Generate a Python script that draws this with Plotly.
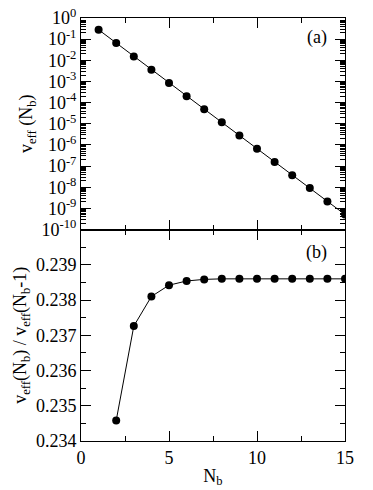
import plotly.graph_objects as go
from plotly.subplots import make_subplots

# values
nb = [1, 2, 3, 4, 5, 6, 7, 8, 9, 10, 11, 12, 13, 14, 15]
v_eff = [0.279, 0.0653, 0.0151, 3.55e-3, 8.5e-4, 2.0e-4, 4.9e-5, 1.17e-5,
         2.8e-6, 6.6e-7, 1.55e-7, 3.7e-8, 9.1e-9, 2.1e-9, 5.1e-10]

nb_ratio = [2, 3, 4, 5, 6, 7, 8, 9, 10, 11, 12, 13, 14, 15]
ratio = [0.23458, 0.23726, 0.23810, 0.23842, 0.23854, 0.238585, 0.2386,
         0.2386, 0.2386, 0.2386, 0.2386, 0.2386, 0.2386, 0.2386]

log_exps = list(range(0, -11, -1))
ratio_ticks = [0.234, 0.235, 0.236, 0.237, 0.238, 0.239]

font = "Liberation Serif, Times New Roman, serif"

fig = make_subplots(rows=2, cols=1, shared_xaxes=True, vertical_spacing=0)

fig.add_trace(go.Scatter(x=nb, y=v_eff, mode='lines+markers',
                         line=dict(color='black', width=1),
                         marker=dict(color='black', size=8)), row=1, col=1)
fig.add_trace(go.Scatter(x=nb_ratio, y=ratio, mode='lines+markers',
                         line=dict(color='black', width=1),
                         marker=dict(color='black', size=8)), row=2, col=1)

axis_common = dict(showline=True, linecolor='black', linewidth=1, mirror='ticks',
                   ticks='inside', tickcolor='black', showgrid=False, zeroline=False,
                   automargin=False, ticklabeloverflow='allow', ticklen=10,
                   tickfont=dict(family=font, size=18, color='black'))

fig.update_xaxes(range=[0, 15], tickvals=[0, 5, 10, 15],
                 minor=dict(ticks='inside', dtick=2.5, ticklen=5, tickcolor='black'),
                 **axis_common)
fig.update_xaxes(showticklabels=False, row=1, col=1)
fig.update_xaxes(title=dict(text='N<sub>b</sub>', font=dict(family=font, size=18, color='black'),
                            standoff=2), row=2, col=1)

minor_log = [m * 10.0 ** e for e in range(-10, 0) for m in range(2, 10)]
fig.update_yaxes(type='log', range=[-10, 0],
                 tickvals=[10.0 ** e for e in log_exps],
                 ticktext=['10<sup>%d</sup>' % e for e in log_exps],
                 minor=dict(ticks='inside', tickvals=minor_log, ticklen=5, tickcolor='black'),
                 title=dict(text='v<sub>eff</sub> (N<sub>b</sub>)',
                            font=dict(family=font, size=18, color='black'), standoff=4),
                 row=1, col=1, **axis_common)
fig.update_yaxes(range=[0.234, 0.240], tickvals=ratio_ticks,
                 ticktext=['%.3f' % t for t in ratio_ticks],
                 minor=dict(ticks='inside', dtick=0.0005, ticklen=5, tickcolor='black'),
                 title=dict(text='v<sub>eff</sub>(N<sub>b</sub>) / v<sub>eff</sub>(N<sub>b</sub>-1)',
                            font=dict(family=font, size=18, color='black'), standoff=4),
                 row=2, col=1, **axis_common)

fig.add_annotation(x=13.4, y=-0.93, xref='x', yref='y', text='(a)', showarrow=False,
                   font=dict(family=font, size=18, color='black'))
fig.add_annotation(x=13.4, y=0.23934, xref='x2', yref='y2', text='(b)', showarrow=False,
                   font=dict(family=font, size=18, color='black'))

# the page adds an 8px body margin, so margins are shifted to compensate
fig.update_layout(width=373, height=490, showlegend=False,
                  plot_bgcolor='white', paper_bgcolor='white',
                  margin=dict(l=73, r=36, t=10, b=57))
fig.write_html("out.html")
